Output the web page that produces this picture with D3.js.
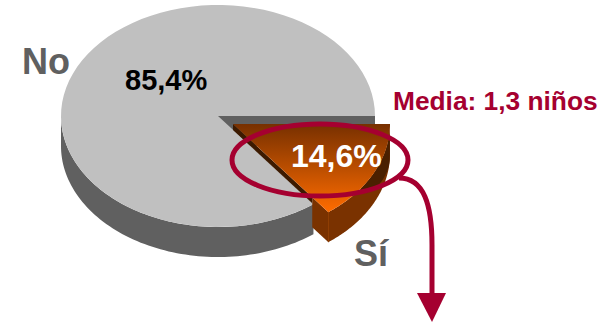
<!DOCTYPE html>
<html>
<head>
<meta charset="utf-8">
<script src="https://d3js.org/d3.v7.min.js"></script>
<style>
  html, body { margin: 0; padding: 0; background: #fff; }
  text { font-family: "Liberation Sans", Arial, sans-serif; font-weight: bold; }
</style>
</head>
<body>
<div id="chart"></div>
<script>
const categories = ["Sí", "No"];
const values = [14.6, 85.4];
const valueLabels = ["14,6%", "85,4%"];
const noteText = "Media: 1,3 niños";

const width = 603, height = 323;
const cx = 218, cy = 116;       // centre of the top of the pie
const rx = 157, ry = 111;
const depth = 30;
const explode = { x: 15, y: 8 };

const svg = d3.select("#chart").append("svg")
  .attr("width", width)
  .attr("height", height)
  .style("display", "block");

// slice gradient on top of the exploded piece
const defs = svg.append("defs");
const grad = defs.append("linearGradient")
  .attr("id", "sliceTop")
  .attr("x1", 0).attr("y1", 0).attr("x2", 0).attr("y2", 1);
grad.append("stop").attr("offset", "0%").attr("stop-color", "#773000");
grad.append("stop").attr("offset", "100%").attr("stop-color", "#ff6c00");

// angles come from d3.pie, starting at 3 o'clock and going clockwise
const slices = d3.pie().sort(null).startAngle(0).endAngle(2 * Math.PI)(values);
const si = slices[0], no = slices[1];

const line = d3.line();
function rim(a0, a1, ox, oy) {
  return d3.range(0, 81).map(i => {
    const a = a0 + (a1 - a0) * i / 80;
    return [ox + rx * Math.cos(a), oy + ry * Math.sin(a)];
  });
}

// grey piece: outer wall, inner wall, top
const noRim = rim(no.startAngle, no.endAngle, cx, cy);
const noFront = rim(no.startAngle, Math.PI, cx, cy);
svg.append("path")
  .attr("d", line(noFront.concat(noFront.map(p => [p[0], p[1] + depth]).reverse())) + "Z")
  .attr("fill", "#606060");
svg.append("path")
  .attr("d", line([[cx, cy], [cx + rx, cy], [cx + rx, cy + depth], [cx, cy + depth]]) + "Z")
  .attr("fill", "#606060");
svg.append("path")
  .attr("d", line([[cx, cy]].concat(noRim)) + "Z")
  .attr("fill", "#c0c0c0");

// exploded piece
const sx = cx + explode.x, sy = cy + explode.y;
const siRim = rim(si.startAngle, si.endAngle, sx, sy);
const tip = siRim[siRim.length - 1];

// front wall under the cut edge
const cutBack = [sx + (tip[0] - sx) * 0.83, sy + (tip[1] - sy) * 0.83];
svg.append("path")
  .attr("d", line([cutBack, tip, [tip[0], tip[1] + depth], [cutBack[0], cutBack[1] + depth]]) + "Z")
  .attr("fill", "#7a3200");
// outer wall
svg.append("path")
  .attr("d", line(siRim.concat(siRim.map(p => [p[0], p[1] + depth]).reverse())) + "Z")
  .attr("fill", "#7a3200");
// seam between the two walls
svg.append("path")
  .attr("d", line([tip, [tip[0], tip[1] + depth]]))
  .attr("stroke", "#8f3c00")
  .attr("fill", "none");
// darker upper part of the outer wall, tapering off along the rim
const span = si.endAngle - si.startAngle;
const darkRim = rim(0.05, 0.05 + span * 0.62, sx, sy);
const darkLow = darkRim.map((p, i) => [p[0], p[1] + depth * Math.sqrt(1 - i / 80)]);
svg.append("path")
  .attr("d", line(darkRim.concat(darkLow.reverse())) + "Z")
  .attr("fill", "#4a2000");
// thin dark strip along the left cut, fills the gap to the grey top
svg.append("path")
  .attr("d", line([[sx, sy], cutBack, [cutBack[0], cutBack[1] + 6], [sx, sy + 6]]) + "Z")
  .attr("fill", "#3c1a00");
// top
svg.append("path")
  .attr("d", line([[sx, sy]].concat(siRim)) + "Z")
  .attr("fill", "url(#sliceTop)");

// ellipse and arrow around the slice
const accent = "#a50030";
svg.append("ellipse")
  .attr("cx", 320).attr("cy", 160)
  .attr("rx", 88).attr("ry", 36)
  .attr("fill", "none")
  .attr("stroke", accent)
  .attr("stroke-width", 5);
svg.append("path")
  .attr("d", "M399,178 C424,178 432,205 432,245 L432,296")
  .attr("fill", "none")
  .attr("stroke", accent)
  .attr("stroke-width", 5);
svg.append("path")
  .attr("d", line([[417, 293], [446, 293], [432, 322]]) + "Z")
  .attr("fill", accent);

// labels
svg.append("text").attr("x", 22).attr("y", 74)
  .attr("font-size", 36).attr("fill", "#606060").text(categories[1]);
svg.append("text").attr("x", 354).attr("y", 266)
  .attr("font-size", 36).attr("fill", "#606060").text(categories[0]);
svg.append("text").attr("x", 125).attr("y", 90)
  .attr("font-size", 29).attr("fill", "#000").text(valueLabels[1]);
svg.append("text").attr("x", 291).attr("y", 167)
  .attr("font-size", 32).attr("fill", "#fff").text(valueLabels[0]);
svg.append("text").attr("x", 393).attr("y", 110)
  .attr("font-size", 26.3).attr("fill", accent).text(noteText);
</script>
</body>
</html>
